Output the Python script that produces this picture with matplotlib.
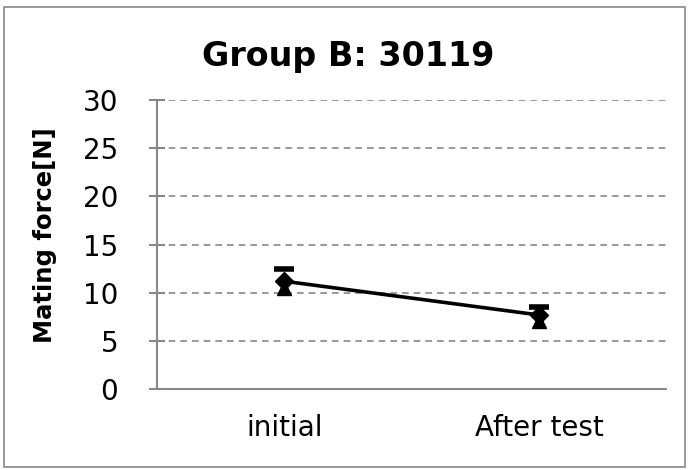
import numpy as np
from matplotlib import pyplot as plt
from matplotlib.patches import Rectangle

categories = ['initial', 'After test']
mean_force = [11.2, 7.7]
max_force = [12.5, 8.5]
min_force = [10.5, 7.1]
y_ticks = [0, 5, 10, 15, 20, 25, 30]

grey = '#888888'

fig = plt.figure(figsize=(6.89, 4.70), dpi=100)
# outer chart border
fig.patches.append(Rectangle((0.006, 0.006), 0.988, 0.98, transform=fig.transFigure,
                             fill=False, edgecolor=grey, linewidth=1.2))

ax = fig.add_axes([0.228, 0.172, 0.739, 0.615])
x = np.arange(len(categories))

ax.plot(x, mean_force, color='black', linewidth=2.6, zorder=3)
ax.plot(x, max_force, linestyle='none', marker='_', markersize=14,
        markeredgewidth=4, color='black', zorder=4)
ax.plot(x, min_force, linestyle='none', marker='^', markersize=10,
        color='black', zorder=4)
ax.plot(x, mean_force, linestyle='none', marker='D', markersize=9,
        color='black', zorder=5)

ax.set_xlim(-0.5, 1.5)
ax.set_ylim(0, 30)
ax.set_yticks(y_ticks)
ax.set_xticks(x)
ax.set_xticklabels(categories)

ax.grid(axis='y', color=grey, linestyle=(0, (4, 3)), linewidth=1.2)
ax.set_axisbelow(True)
for side in ['top', 'right']:
    ax.spines[side].set_visible(False)
for side in ['left', 'bottom']:
    ax.spines[side].set_color(grey)
    ax.spines[side].set_linewidth(1.5)

ax.tick_params(axis='y', direction='inout', length=12, width=1.5, color=grey,
               labelsize=20, pad=22)
ax.tick_params(axis='x', length=0, labelsize=20, pad=18)

ax.set_ylabel('Mating force[N]', fontsize=17.5, fontweight='bold')
ax.yaxis.set_label_coords(-0.196, 0.533)
fig.text(0.506, 0.88, 'Group B: 30119', ha='center', va='center',
         fontsize=24, fontweight='bold')

fig.savefig('out.png', dpi=100)
